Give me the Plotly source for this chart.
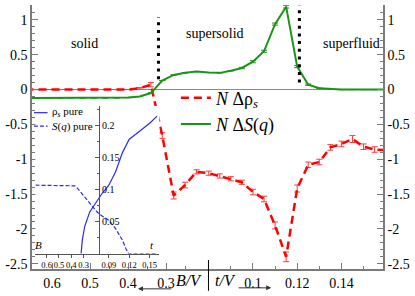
import plotly.graph_objects as go

# ---------------- main panel data ----------------
# points on the B/V leg of the path (left part of the x axis, B/V decreasing)
B_LEG = [0.67, 0.64, 0.61, 0.58, 0.55, 0.52, 0.49, 0.46, 0.43, 0.40, 0.37, 0.34, 0.31, 0.28, 0.25, 0.22]
# points on the t/V leg of the path (right part of the x axis, t/V increasing)
T_LEG = [0.080, 0.085, 0.090, 0.095, 0.100, 0.105, 0.110, 0.115, 0.120, 0.125,
         0.130, 0.135, 0.140, 0.145, 0.150, 0.155, 0.160]

# N Δρ_s
DRHO_B = [0.0, 0.0, 0.0, 0.0, 0.0, 0.0, 0.0, 0.0, 0.0, 0.0, 0.02, 0.07, -0.66, -1.52, -1.37, -1.18]
DRHO_B_ERR = [0.0, 0.0, 0.0, 0.0, 0.0, 0.0, 0.0, 0.0, 0.0, 0.0, 0.01, 0.03, 0.04, 0.05, 0.04, 0.03]
DRHO_T = [-1.20, -1.24, -1.28, -1.33, -1.47, -1.57, -1.95, -2.40, -1.42, -1.08,
          -1.04, -0.83, -0.78, -0.71, -0.82, -0.86, -0.87]
DRHO_T_ERR = [0.03, 0.03, 0.03, 0.03, 0.04, 0.04, 0.05, 0.07, 0.05, 0.04,
              0.04, 0.04, 0.04, 0.05, 0.04, 0.04, 0.0]

# N ΔS(q)
DSQ_B = [-0.12, -0.12, -0.12, -0.12, -0.12, -0.12, -0.12, -0.12, -0.12, -0.115, -0.10, -0.05, 0.13, 0.21, 0.24, 0.26]
DSQ_B_ERR = [0.0, 0.0, 0.0, 0.0, 0.0, 0.0, 0.0, 0.0, 0.0, 0.0, 0.0, 0.0, 0.0, 0.0, 0.0, 0.0]
DSQ_T = [0.245, 0.24, 0.27, 0.31, 0.40, 0.55, 0.94, 1.19, 0.33, 0.07,
         0.02, 0.005, 0.0, 0.0, 0.0, 0.0, 0.0]
DSQ_T_ERR = [0.0, 0.0, 0.0, 0.01, 0.015, 0.015, 0.015, 0.02, 0.015, 0.01,
             0.0, 0.0, 0.0, 0.0, 0.0, 0.0, 0.0]

# phase boundaries (dotted lines)
PHASE_B = 0.32     # solid | supersolid, on the B/V leg
PHASE_T = 0.121    # supersolid | superfluid, on the t/V leg

# tick labels
MAIN_B_TICKS = [0.6, 0.5, 0.4, 0.3]
MAIN_B_LABELS = ["0.6", "0.5", "0.4", "0.3"]
MAIN_B_MINOR = [0.55, 0.45, 0.35, 0.25]
MAIN_T_TICKS = [0.10, 0.12, 0.14]
MAIN_T_LABELS = ["0.1", "0.12", "0.14"]
MAIN_T_MINOR = [0.09, 0.11, 0.13, 0.15]
Y_TICKS = [-2.5, -2.0, -1.5, -1.0, -0.5, 0.0, 0.5, 1.0]
Y_LABELS = ["-2.5", "-2", "-1.5", "-1", "-0.5", "0", "0.5", "1"]

# ---------------- inset data ----------------
RHO_PURE_B = [0.32, 0.31, 0.29, 0.27, 0.25, 0.23, 0.20]
RHO_PURE_BV = [0.0, 0.022, 0.043, 0.056, 0.065, 0.071, 0.080]
RHO_PURE_T = [0.08, 0.09, 0.10, 0.11, 0.12, 0.13, 0.14, 0.15, 0.161]
RHO_PURE_TV = [0.094, 0.107, 0.128, 0.158, 0.179, 0.187, 0.195, 0.204, 0.215]

SQ_PURE_B = [0.69, 0.60, 0.50, 0.40, 0.37, 0.34, 0.31, 0.28, 0.25, 0.22, 0.19]
SQ_PURE_BV = [0.107, 0.107, 0.107, 0.107, 0.106, 0.100, 0.093, 0.086, 0.079, 0.071, 0.065]
SQ_PURE_T = [0.08, 0.09, 0.10, 0.11, 0.115, 0.119, 0.13, 0.14, 0.15, 0.16]
SQ_PURE_TV = [0.059, 0.052, 0.039, 0.021, 0.008, 0.0, 0.0, 0.0, 0.0, 0.0]

INSET_B_TICKS = [0.6, 0.5, 0.4, 0.3]
INSET_B_LABELS = ["0.6", "0.5", "0.4", "0.3"]
INSET_T_TICKS = [0.09, 0.12, 0.15]
INSET_T_LABELS = ["0.09", "0.12", "0.15"]
INSET_Y_TICKS = [0.05, 0.10, 0.15, 0.20]
INSET_Y_LABELS = ["0.05", "0.1", "0.15", "0.2"]
INSET_Y_MINOR = [0.025, 0.075, 0.125, 0.175, 0.225]
INSET_T_DIVIDE = 0.0757


# ---------------- path-axis mappings ----------------
def main_u(b):
    """position of a B/V value on the shared (t/V-scaled) main x axis"""
    return 0.00918 + (0.6 - b) * 0.1718


def inset_u(b):
    """position of a B/V value on the shared inset x axis"""
    return -0.0014 + (0.6 - b) * 0.181


# ---------------- geometry helpers ----------------
W, H = 415, 296
ML, MR, MT, MB = 26, 28, 5, 25
PW, PH = W - ML - MR, H - MT - MB


def PX(x):
    return (x - ML) / PW


def PY(y):
    return (H - MB - y) / PH


AX = "#7a7a7a"
RED = "#ff0000"
GREEN = "rgb(25,148,25)"
BLUE = "rgb(40,40,255)"
SERIF = "Liberation Serif"

X_RANGE = [0.0001, 0.1588]
Y_RANGE = [-2.575, 1.214]
IX_RANGE = [-0.0179, 0.1643]
IY_RANGE = [0.0, 0.231]
IX_DOMAIN = [PX(29.5), PX(157)]

fig = go.Figure()

fig.add_trace(go.Scatter(
    x=[main_u(b) for b in B_LEG] + T_LEG, y=DRHO_B + DRHO_T,
    mode="lines", line=dict(color=RED, width=2.5, dash="8px,5px"),
    error_y=dict(type="data", array=DRHO_B_ERR + DRHO_T_ERR, color="#ff3a3a", thickness=1, width=3),
    name="<i>N</i> Δρ<sub><i>s</i></sub>", legend="legend",
    xaxis="x", yaxis="y"))

fig.add_trace(go.Scatter(
    x=[main_u(b) for b in B_LEG] + T_LEG, y=DSQ_B + DSQ_T,
    mode="lines", line=dict(color=GREEN, width=2),
    error_y=dict(type="data", array=DSQ_B_ERR + DSQ_T_ERR, color=GREEN, thickness=1, width=3),
    name="<i>N</i> Δ<i>S</i>(<i>q</i>)", legend="legend",
    xaxis="x", yaxis="y2"))

# inset curves
fig.add_trace(go.Scatter(
    x=[inset_u(b) for b in RHO_PURE_B] + RHO_PURE_T, y=RHO_PURE_BV + RHO_PURE_TV,
    mode="lines", line=dict(color=BLUE, width=1.2), showlegend=False,
    xaxis="x3", yaxis="y3"))
fig.add_trace(go.Scatter(
    x=[inset_u(b) for b in SQ_PURE_B] + SQ_PURE_T, y=SQ_PURE_BV + SQ_PURE_TV,
    mode="lines", line=dict(color=BLUE, width=1.2, dash="4px,2px"), showlegend=False,
    xaxis="x3", yaxis="y3"))

y_minor = [round(-2.5 + 0.1 * k, 2) for k in range(38) if round((-2.5 + 0.1 * k) * 2, 6) % 1 != 0]

common_y = dict(range=Y_RANGE, showline=True, linecolor=AX, linewidth=1.5,
                ticks="inside", ticklen=6, tickwidth=1, tickcolor=AX,
                tickvals=Y_TICKS, ticktext=Y_LABELS, showgrid=False,
                minor=dict(tickvals=y_minor, ticks="inside", ticklen=3, tickcolor=AX, showgrid=False),
                tickfont=dict(family=SERIF, size=14, color="black"))

inset_x_vals = [inset_u(b) for b in INSET_B_TICKS] + INSET_T_TICKS
inset_y_pos = IX_DOMAIN[0] + (INSET_T_DIVIDE - IX_RANGE[0]) / (IX_RANGE[1] - IX_RANGE[0]) * (IX_DOMAIN[1] - IX_DOMAIN[0])

fig.update_layout(
    width=W, height=H,
    margin=dict(l=ML, r=MR, t=MT, b=MB, pad=0),
    paper_bgcolor="white", plot_bgcolor="white",
    font=dict(family=SERIF, size=14, color="black"),
    xaxis=dict(domain=[0, 1], range=X_RANGE, showline=True, linecolor=AX, linewidth=1.5,
               ticks="inside", ticklen=6, tickcolor=AX, tickangle=0,
               tickvals=[main_u(b) for b in MAIN_B_TICKS] + MAIN_T_TICKS,
               ticktext=MAIN_B_LABELS + MAIN_T_LABELS,
               minor=dict(tickvals=[main_u(b) for b in MAIN_B_MINOR] + MAIN_T_MINOR,
                          ticks="inside", ticklen=3, tickcolor=AX, showgrid=False),
               showgrid=False, zeroline=False, anchor="y",
               tickfont=dict(family=SERIF, size=14, color="black")),
    yaxis=dict(**common_y, zeroline=True, zerolinecolor="#8a8a8a", zerolinewidth=1, anchor="x"),
    yaxis2=dict(**common_y, overlaying="y", side="right", zeroline=False, anchor="x"),
    xaxis3=dict(domain=IX_DOMAIN, range=IX_RANGE, anchor="y3", showline=True, linecolor="#555",
                linewidth=1, ticks="outside", ticklen=3, tickcolor="#555", tickangle=0,
                tickvals=inset_x_vals, ticktext=INSET_B_LABELS + INSET_T_LABELS,
                showgrid=False, zeroline=False,
                tickfont=dict(family=SERIF, size=8.5, color="black")),
    yaxis3=dict(domain=[PY(255.5), PY(106.7)], range=IY_RANGE, anchor="free", position=inset_y_pos,
                side="right", showline=True, linecolor="#555", linewidth=1,
                ticks="inside", ticklen=4, tickcolor="#555",
                tickvals=INSET_Y_TICKS, ticktext=INSET_Y_LABELS,
                minor=dict(tickvals=INSET_Y_MINOR, ticks="inside", ticklen=2.5, tickcolor="#555", showgrid=False),
                showgrid=False, zeroline=False,
                tickfont=dict(family=SERIF, size=10, color="black")),
    legend=dict(x=PX(174), y=PY(80), xanchor="left", yanchor="top",
                bgcolor="rgba(0,0,0,0)", borderwidth=0,
                font=dict(family=SERIF, size=18, color="black"), itemwidth=30),
    showlegend=True,
)

shapes = [
    # phase boundaries
    dict(type="line", xref="x", yref="y", x0=main_u(PHASE_B), x1=main_u(PHASE_B), y0=0.15, y1=1.04,
         line=dict(color="black", width=3, dash="3px,4.7px")),
    dict(type="line", xref="x", yref="y", x0=PHASE_T, x1=PHASE_T, y0=0.10, y1=1.21,
         line=dict(color="black", width=3, dash="3px,4.7px")),
    # divider between the two legs of the x axis
    dict(type="line", xref="paper", yref="paper", x0=PX(207.5), x1=PX(207.5), y0=PY(293), y1=PY(262),
         line=dict(color="black", width=1)),
    # inset legend keys
    dict(type="line", xref="paper", yref="paper", x0=PX(28), x1=PX(42), y0=PY(113.5), y1=PY(113.5),
         line=dict(color=BLUE, width=1.2)),
    dict(type="line", xref="paper", yref="paper", x0=PX(28), x1=PX(42), y0=PY(127), y1=PY(127),
         line=dict(color=BLUE, width=1.2, dash="4px,2px")),
]
fig.update_layout(shapes=shapes)

ann = []


def txt(text, x, y, size, xanchor="center", italic=False):
    ann.append(dict(text=text, x=PX(x), y=PY(y), xref="paper", yref="paper", showarrow=False,
                    xanchor=xanchor, yanchor="middle",
                    font=dict(family=SERIF, size=size, color="black",
                              style="italic" if italic else "normal")))


txt("solid", 80, 44, 14)
txt("supersolid", 214, 34, 14)
txt("superfluid", 355, 44, 14)
txt("B/V", 187, 283, 16, italic=True)
txt("t/V", 225, 283, 16, italic=True)
txt("ρ<sub><i>s</i></sub> pure", 45, 113, 11, xanchor="left")
txt("<i>S</i>(<i>q</i>) pure", 45, 127, 11, xanchor="left")
txt("B", 33, 247, 11, italic=True)
txt("t", 149, 247, 11, italic=True)

# axis direction arrows
ann.append(dict(text="", x=PX(135), y=PY(291), xref="paper", yref="paper", showarrow=True,
                ax=35, ay=0, arrowhead=2, arrowsize=1, arrowwidth=1, arrowcolor="#333"))
ann.append(dict(text="", x=PX(272), y=PY(290), xref="paper", yref="paper", showarrow=True,
                ax=-34, ay=0, arrowhead=2, arrowsize=1, arrowwidth=1, arrowcolor="#333"))
fig.update_layout(annotations=ann)

fig.write_html("out.html", config={"displayModeBar": False},
               post_script="document.body.style.margin='0px';")
